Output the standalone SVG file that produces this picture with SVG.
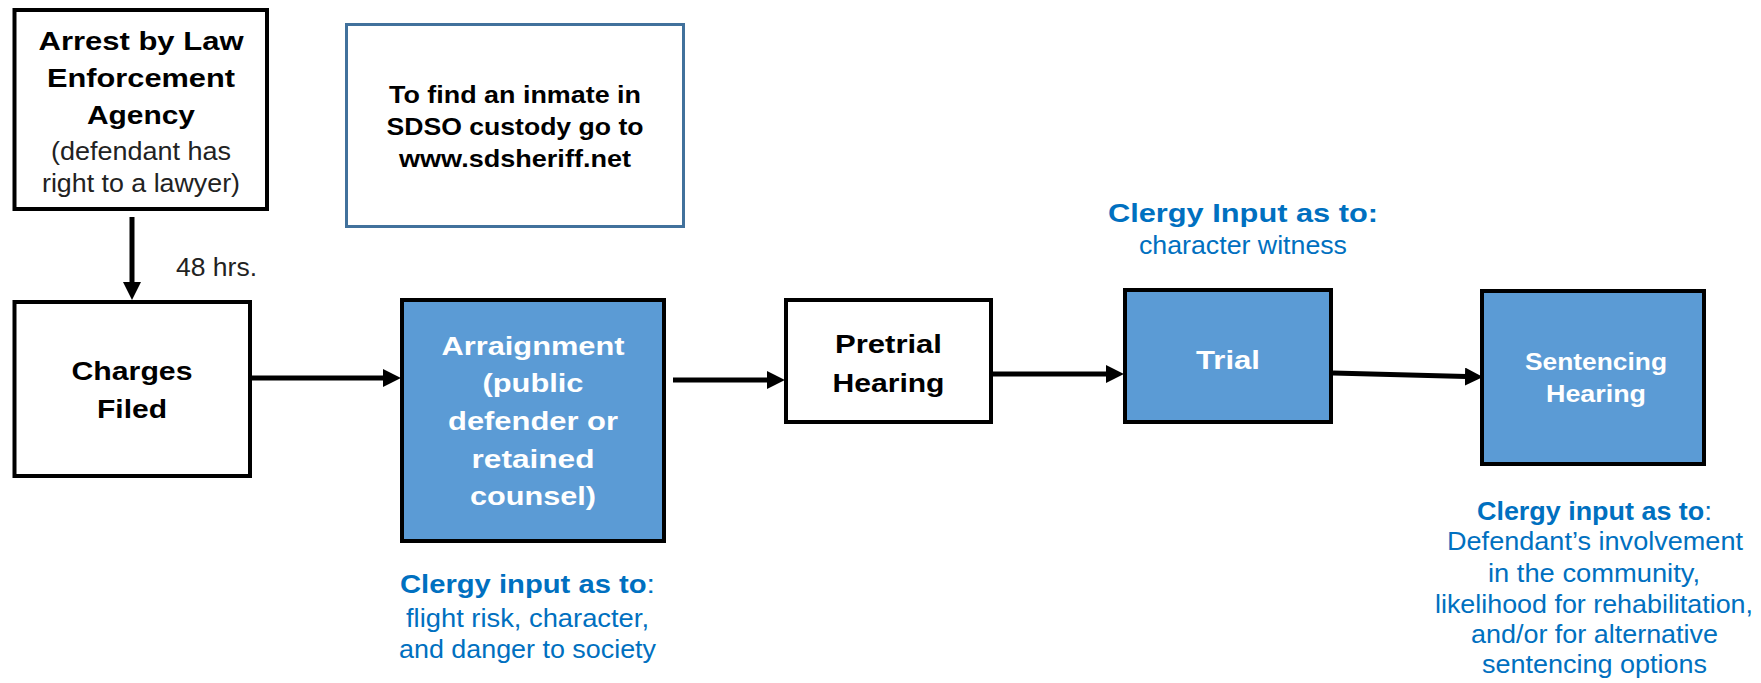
<svg xmlns="http://www.w3.org/2000/svg" width="1761" height="683" viewBox="0 0 1761 683">
<style>
text{font-family:"Liberation Sans",Arial,sans-serif;text-anchor:middle}
.b{font-weight:bold;font-size:25px}
.r{font-size:26px}
.k{fill:#000}
.g{fill:#222}
.w{fill:#fff}
.bl{fill:#0070c0}
.box{stroke:#000;stroke-width:4}
.white{fill:#fff}
.blue{fill:#5b9bd5}
.info{fill:#fff;stroke:#41719c;stroke-width:3}
.conn{stroke:#000;stroke-width:5;fill:none;marker-end:url(#ah)}
</style>
<defs>
<marker id="ah" markerUnits="userSpaceOnUse" markerWidth="18" markerHeight="18" viewBox="0 0 17 17" refX="1" refY="8.5" orient="auto">
<path d="M0,0 L17,8.5 L0,17 z" fill="#000"/>
</marker>
</defs>
<rect width="1761" height="683" fill="#fff"/>

<g id="arrest">
<rect class="box white" x="14.5" y="10" width="252.5" height="199"/>
<text class="b k" x="141" y="50" textLength="205" lengthAdjust="spacingAndGlyphs">Arrest by Law</text>
<text class="b k" x="141" y="87" textLength="188" lengthAdjust="spacingAndGlyphs">Enforcement</text>
<text class="b k" x="141" y="124" textLength="108" lengthAdjust="spacingAndGlyphs">Agency</text>
<text class="r g" x="141" y="160" textLength="180" lengthAdjust="spacingAndGlyphs">(defendant has</text>
<text class="r g" x="141" y="192" textLength="198" lengthAdjust="spacingAndGlyphs">right to a lawyer)</text>
</g>

<g id="info">
<rect class="info" x="346.5" y="24.5" width="337" height="202"/>
<text class="b k" x="515" y="103" style="font-size:24px" textLength="252" lengthAdjust="spacingAndGlyphs">To find an inmate in</text>
<text class="b k" x="515" y="135" style="font-size:24px" textLength="257" lengthAdjust="spacingAndGlyphs">SDSO custody go to</text>
<text class="b k" x="515" y="167" style="font-size:24px" textLength="232" lengthAdjust="spacingAndGlyphs">www.sdsheriff.net</text>
</g>

<g id="charges">
<rect class="box white" x="14.5" y="302" width="235.5" height="174"/>
<text class="b k" x="132" y="380" textLength="121" lengthAdjust="spacingAndGlyphs">Charges</text>
<text class="b k" x="132" y="418" textLength="70" lengthAdjust="spacingAndGlyphs">Filed</text>
</g>

<g id="arraignment">
<rect class="box blue" x="402" y="300" width="262" height="241"/>
<text class="b w" x="533" y="355" textLength="183" lengthAdjust="spacingAndGlyphs">Arraignment</text>
<text class="b w" x="533" y="392" textLength="101" lengthAdjust="spacingAndGlyphs">(public</text>
<text class="b w" x="533" y="430" textLength="170" lengthAdjust="spacingAndGlyphs">defender or</text>
<text class="b w" x="533" y="468" textLength="123" lengthAdjust="spacingAndGlyphs">retained</text>
<text class="b w" x="533" y="505" textLength="126" lengthAdjust="spacingAndGlyphs">counsel)</text>
</g>

<g id="arraignment-clergy">
<text class="r bl" x="527.5" y="593" textLength="255" lengthAdjust="spacingAndGlyphs"><tspan font-weight="bold" font-size="25">Clergy input as to</tspan>:</text>
<text class="r bl" x="527.5" y="627" textLength="243" lengthAdjust="spacingAndGlyphs">flight risk, character,</text>
<text class="r bl" x="527.5" y="658" textLength="257" lengthAdjust="spacingAndGlyphs">and danger to society</text>
</g>

<g id="pretrial">
<rect class="box white" x="786" y="300" width="205" height="122"/>
<text class="b k" x="888.5" y="353" textLength="107" lengthAdjust="spacingAndGlyphs">Pretrial</text>
<text class="b k" x="888.5" y="392" textLength="112" lengthAdjust="spacingAndGlyphs">Hearing</text>
</g>

<g id="trial">
<rect class="box blue" x="1125" y="290" width="206" height="132"/>
<text class="b w" x="1228" y="369" textLength="64" lengthAdjust="spacingAndGlyphs">Trial</text>
</g>

<g id="trial-clergy">
<text class="b bl" x="1243" y="222" textLength="270" lengthAdjust="spacingAndGlyphs">Clergy Input as to:</text>
<text class="r bl" x="1243" y="254" textLength="208" lengthAdjust="spacingAndGlyphs">character witness</text>
</g>

<g id="sentencing">
<rect class="box blue" x="1482" y="291" width="222" height="173"/>
<text class="b w" x="1596" y="370" style="font-size:23px" textLength="142" lengthAdjust="spacingAndGlyphs">Sentencing</text>
<text class="b w" x="1596" y="402" style="font-size:23px" textLength="100" lengthAdjust="spacingAndGlyphs">Hearing</text>
</g>

<g id="sentencing-clergy">
<text class="r bl" x="1594.5" y="520" textLength="235" lengthAdjust="spacingAndGlyphs"><tspan font-weight="bold" font-size="25">Clergy input as to</tspan>:</text>
<text class="r bl" x="1595" y="550" textLength="296" lengthAdjust="spacingAndGlyphs">Defendant’s involvement</text>
<text class="r bl" x="1594" y="582" textLength="212" lengthAdjust="spacingAndGlyphs">in the community,</text>
<text class="r bl" x="1594" y="613" textLength="318" lengthAdjust="spacingAndGlyphs">likelihood for rehabilitation,</text>
<text class="r bl" x="1594.5" y="643" textLength="247" lengthAdjust="spacingAndGlyphs">and/or for alternative</text>
<text class="r bl" x="1594.5" y="673" textLength="225" lengthAdjust="spacingAndGlyphs">sentencing options</text>
</g>

<g id="connectors">
<line class="conn" x1="132" y1="217" x2="132" y2="283"/>
<text class="r g" x="176" y="276" style="text-anchor:start" textLength="81" lengthAdjust="spacingAndGlyphs">48 hrs.</text>
<line class="conn" x1="252" y1="378" x2="384" y2="378"/>
<line class="conn" x1="673" y1="380" x2="768" y2="380"/>
<line class="conn" x1="993" y1="374" x2="1107" y2="374"/>
<line class="conn" x1="1333" y1="373" x2="1466" y2="376.6"/>
</g>
</svg>
